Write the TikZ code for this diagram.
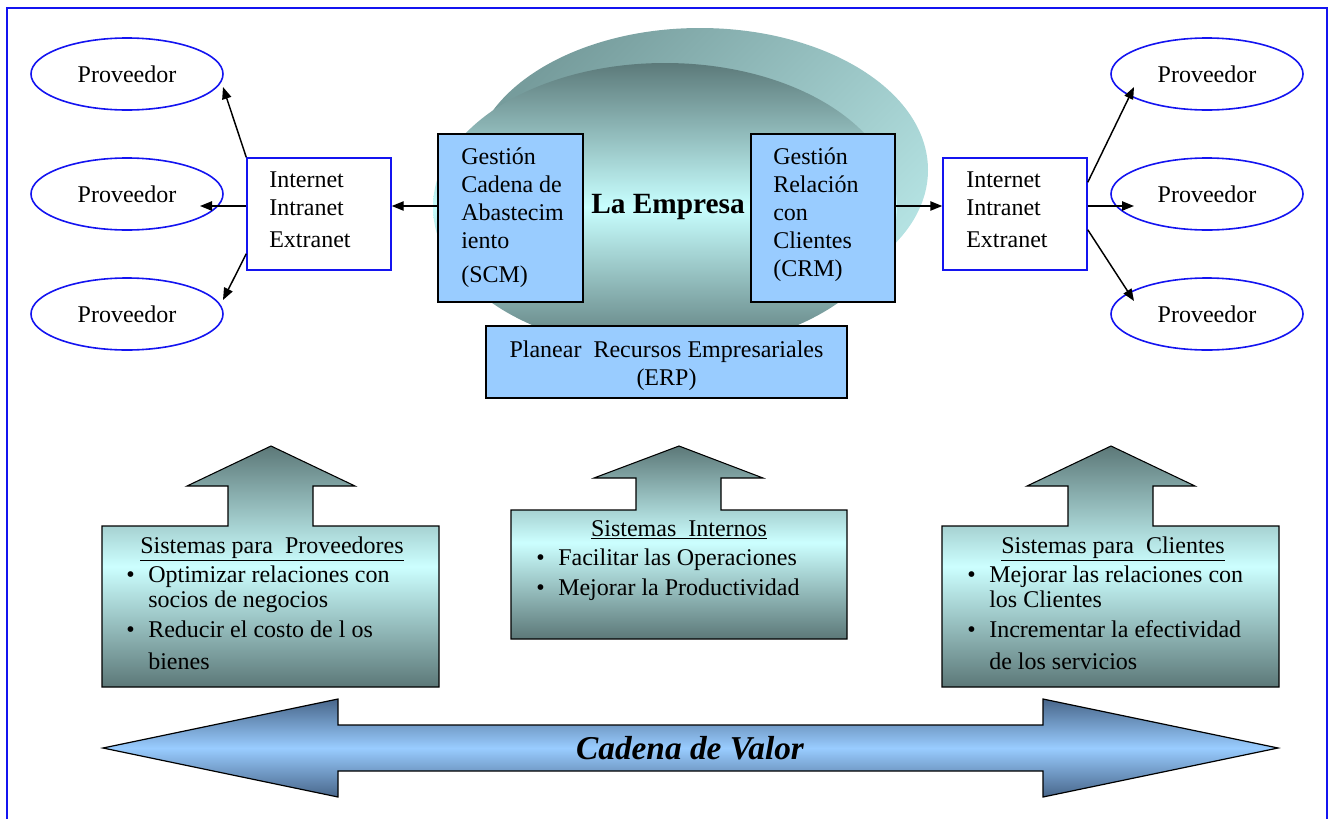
\documentclass[tikz,border=0pt]{standalone}
\usepackage{fontspec}
\setmainfont{Liberation Serif}
\usetikzlibrary{arrows.meta,shapes.geometric}

\definecolor{frameblue}{RGB}{20,20,240}
\definecolor{boxblue}{RGB}{153,204,255}
\definecolor{calldark}{RGB}{92,120,120}
\definecolor{calllight}{RGB}{204,255,255}
\definecolor{empdark}{RGB}{92,122,122}
\definecolor{emplight}{RGB}{200,255,255}
\definecolor{shadowtop}{RGB}{118,156,156}
\definecolor{shadowbot}{RGB}{180,226,226}
\definecolor{arrdark}{RGB}{72,102,138}

% bullet with hanging indent
\newcommand{\bitem}{\makebox[16.5pt][l]{•}}
\newcommand{\bskip}{\hspace*{16.5pt}}

\begin{document}
\begin{tikzpicture}[x=0.75pt, y=-0.75pt,
  every node/.style={font=\fontsize{18}{21}\selectfont},
  prov/.style={ellipse, draw=frameblue, line width=1.2pt, minimum width=144pt, minimum height=54pt, inner sep=0pt},
  netbox/.style={rectangle, draw=frameblue, line width=1.1pt, fill=white, minimum width=108pt, minimum height=84pt, inner sep=0pt},
  modbox/.style={rectangle, draw=black, line width=1.1pt, fill=boxblue, inner sep=0pt},
  txt/.style={inner sep=0pt, align=left, anchor=north west},
  blist/.style={inner sep=0pt, align=left, anchor=north west, font=\fontsize{18}{18.75}\selectfont},
  head/.style={inner sep=0pt, anchor=base},
  arr/.style={-{Triangle[length=9pt,width=7pt]}, line width=1.1pt},
  callout/.style={draw=black, line width=0.8pt, top color=calldark, bottom color=calldark, middle color=calllight},
  bigarrow/.style={draw=black, line width=0.9pt, top color=arrdark, bottom color=arrdark, middle color=boxblue},
]
\useasboundingbox (0,0) rectangle (1332,818);

% outer frame
\draw[frameblue, line width=1.3pt] (7,8) rectangle (1327,840);

% the enterprise: shadow ellipse and shaded body
\shade[top color=shadowtop, bottom color=shadowbot, shading angle=45] (700,170) ellipse [x radius=228, y radius=142];
\shade[top color=empdark, bottom color=empdark, middle color=emplight] (665,207) ellipse [x radius=232, y radius=144];

% module boxes
\node[modbox, minimum width=108.75pt, minimum height=126pt] (scm) at (510.5,218) {};
\node[txt] (scmt) at (461,148) {Gestión\\Cadena de\\Abastecim\\iento\\[4.5pt](SCM)};
\node[modbox, minimum width=108pt, minimum height=126pt] (crm) at (823,218) {};
\node[txt] (crmt) at (773,148) {Gestión\\Relación\\con\\Clientes\\(CRM)};
\node[modbox, minimum width=270.75pt, minimum height=54pt] (erp) at (666.5,362) {};
\node[inner sep=0pt, align=center, anchor=north] (erpt) at (666.5,341) {Planear\ \ Recursos Empresariales\\(ERP)};

\node[font=\fontsize{22}{26}\selectfont\bfseries] (emp) at (668,207) {La Empresa};

% network boxes
\node[netbox] (inL) at (319,214) {};
\node[txt] (inLt) at (269,172) {Internet\\Intranet\\[3pt]Extranet};
\node[netbox] (inR) at (1015,214) {};
\node[txt] (inRt) at (966,172) {Internet\\Intranet\\[3pt]Extranet};

% suppliers
\node[prov] (pL1) at (127,74) {Proveedor};
\node[prov] (pL2) at (127,194) {Proveedor};
\node[prov] (pL3) at (127,314) {Proveedor};
\node[prov] (pR1) at (1207,74) {Proveedor};
\node[prov] (pR2) at (1207,194) {Proveedor};
\node[prov] (pR3) at (1207,314) {Proveedor};

% arrow tips
\coordinate (tL1) at (223,87);
\coordinate (tL2) at (200,206);
\coordinate (tL3) at (223,300);
\coordinate (tR1) at (1134,87);
\coordinate (tR2) at (1134,206);
\coordinate (tR3) at (1134,301);

% connectors
\draw[arr] (scm.west |- tL2) -- (inL.east |- tL2);
\draw[arr] (crm.east |- tR2) -- (inR.west |- tR2);
\draw[arr] (inL.north west) -- (tL1);
\draw[arr] (inL.west |- tL2) -- (tL2);
\draw[arr] (inL.south west) ++(0,-17) -- (tL3);
\draw[arr] (inR.north east) ++(0,25) -- (tR1);
\draw[arr] (inR.east |- tR2) -- (tR2);
\draw[arr] (inR.south east) ++(0,-41) -- (tR3);

% systems callouts
\path[callout] (102,526) -- (228,526) -- (228,486) -- (187,486) -- (271,446) -- (355,486) -- (313,486) -- (313,526) -- (439,526) -- (439,687) -- (102,687) -- cycle;
\node[head] (h1) at (272,553) {\underline{Sistemas para\ \ Proveedores}};
\node[blist] (b1) at (126,566) {\bitem Optimizar relaciones con\\\bskip socios de negocios\\[3.75pt]\bitem Reducir el costo de l os\\[5.25pt]\bskip bienes};

\path[callout] (511,510) -- (636,510) -- (636,478) -- (594,478) -- (679,446) -- (763,478) -- (721,478) -- (721,510) -- (847,510) -- (847,639) -- (511,639) -- cycle;
\node[head] (h2) at (679,536) {\underline{Sistemas\ \ Internos}};
\node[blist] (b2) at (536,549) {\bitem Facilitar las Operaciones\\[3.75pt]\bitem Mejorar la Productividad};

\path[callout] (942,526) -- (1068,526) -- (1068,486) -- (1027,486) -- (1111,446) -- (1195,486) -- (1153,486) -- (1153,526) -- (1279,526) -- (1279,687) -- (942,687) -- cycle;
\node[head] (h3) at (1113,553) {\underline{Sistemas para\ \ Clientes}};
\node[blist] (b3) at (967,566) {\bitem Mejorar las relaciones con\\\bskip los Clientes\\[3.75pt]\bitem Incrementar la efectividad\\[5.25pt]\bskip de los servicios};

% value chain arrow
\path[bigarrow] (103,748) -- (338,699) -- (338,725) -- (1043,725) -- (1043,699) -- (1278,748) -- (1043,797) -- (1043,771) -- (338,771) -- (338,797) -- cycle;
\node[font=\fontsize{25}{30}\selectfont\bfseries\itshape] (cv) at (690,748) {Cadena de Valor};
\end{tikzpicture}
\end{document}
